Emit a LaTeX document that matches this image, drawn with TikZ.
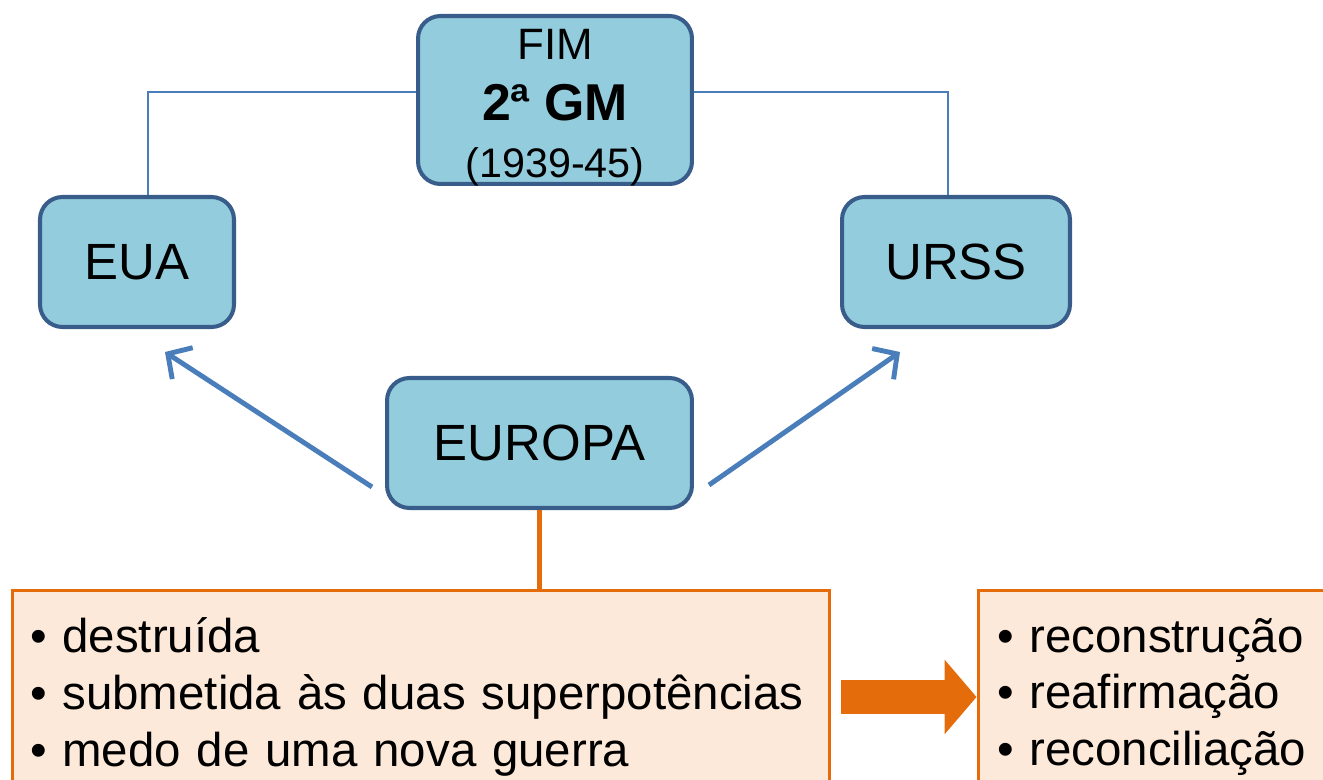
\documentclass[tikz,border=0pt]{standalone}
\usepackage{fontspec}
\setmainfont{Liberation Sans}
\usetikzlibrary{arrows.meta}
\definecolor{boxblue}{RGB}{147,205,221}
\definecolor{boxedge}{RGB}{56,93,138}
\definecolor{linkblue}{RGB}{74,126,187}
\definecolor{boxorange}{RGB}{228,108,10}
\definecolor{boxpeach}{RGB}{253,233,217}
\tikzset{
    bluebox/.style = {draw=boxedge, fill=boxblue, line width=2.3pt, rounded corners=0.45cm, inner sep=0pt, font=\fontsize{29}{34}\selectfont},
    peachbox/.style = {draw=boxorange, fill=boxpeach, line width=1.7pt, inner ysep=0pt, align=left, minimum height=4.28cm, font=\fontsize{27}{32.3}\selectfont},
    thinlink/.style = {draw=linkblue, line width=0.85pt},
    bluearrow/.style = {draw=linkblue, line width=2.8pt, -{Straight Barb[length=0.35cm, width=0.75cm]}},
    bigarrow/.style = {draw=boxorange, line width=0.7cm, -{Triangle[length=0.64cm, width=1.46cm]}, shorten <=0.2cm}
}

\begin{document}
\begin{tikzpicture}[x=0.02cm, y=-0.02cm]
        \clip (0, 0) rectangle (1323, 780);
        \node[bluebox, minimum width=5.48cm, minimum height=3.36cm] (fim) at (555, 100) {};
        \node[align=center, inner sep=0pt, font=\fontsize{25}{34}\selectfont] (fimtext) at ([yshift=-0.16cm]fim.center)
            {FIM\\[0.6pt]{\fontsize{29.5}{34}\selectfont\bfseries 2ª GM}\\[-1.6pt]{\fontsize{23.5}{34}\selectfont (1939-45)}};
        \node[bluebox, minimum width=3.88cm, minimum height=2.6cm] (eua) at (137, 262) {EUA};
        \node[bluebox, minimum width=4.56cm, minimum height=2.6cm] (urss) at (956, 262) {URSS};
        \node[bluebox, minimum width=6.1cm, minimum height=2.6cm] (europa) at (539.5, 443) {EUROPA};
        \node[peachbox, inner xsep=0.36cm, text width=15.64cm, minimum width=16.36cm] (lbox) at (421, 697)
            {• destruída\\• submetida às duas superpotências\\• medo de uma nova guerra};
        \node[peachbox, inner xsep=0.38cm, text width=6.58cm, minimum width=7.34cm] (rbox) at (1161.5, 697)
            {• reconstrução\\• reafirmação\\• reconciliação};
        \path[draw, thinlink] ([yshift=0.16cm]fim.west) -| ([xshift=0.22cm]eua.north);
        \path[draw, thinlink] ([yshift=0.16cm]fim.east) -| ([xshift=-0.16cm]urss.north);
        \path[draw, bluearrow] ([shift={(-13, 44)}]europa.west) -- ([shift={(28, 23)}]eua.south);
        \path[draw, bluearrow] ([shift={(15, 42)}]europa.east) -- ([shift={(-56, 23)}]urss.south);
        \path[draw, boxorange, line width=2.3pt] (europa.south) -- (europa.south |- lbox.north);
        \path[bigarrow] (lbox) -- (rbox);
\end{tikzpicture}
\end{document}
